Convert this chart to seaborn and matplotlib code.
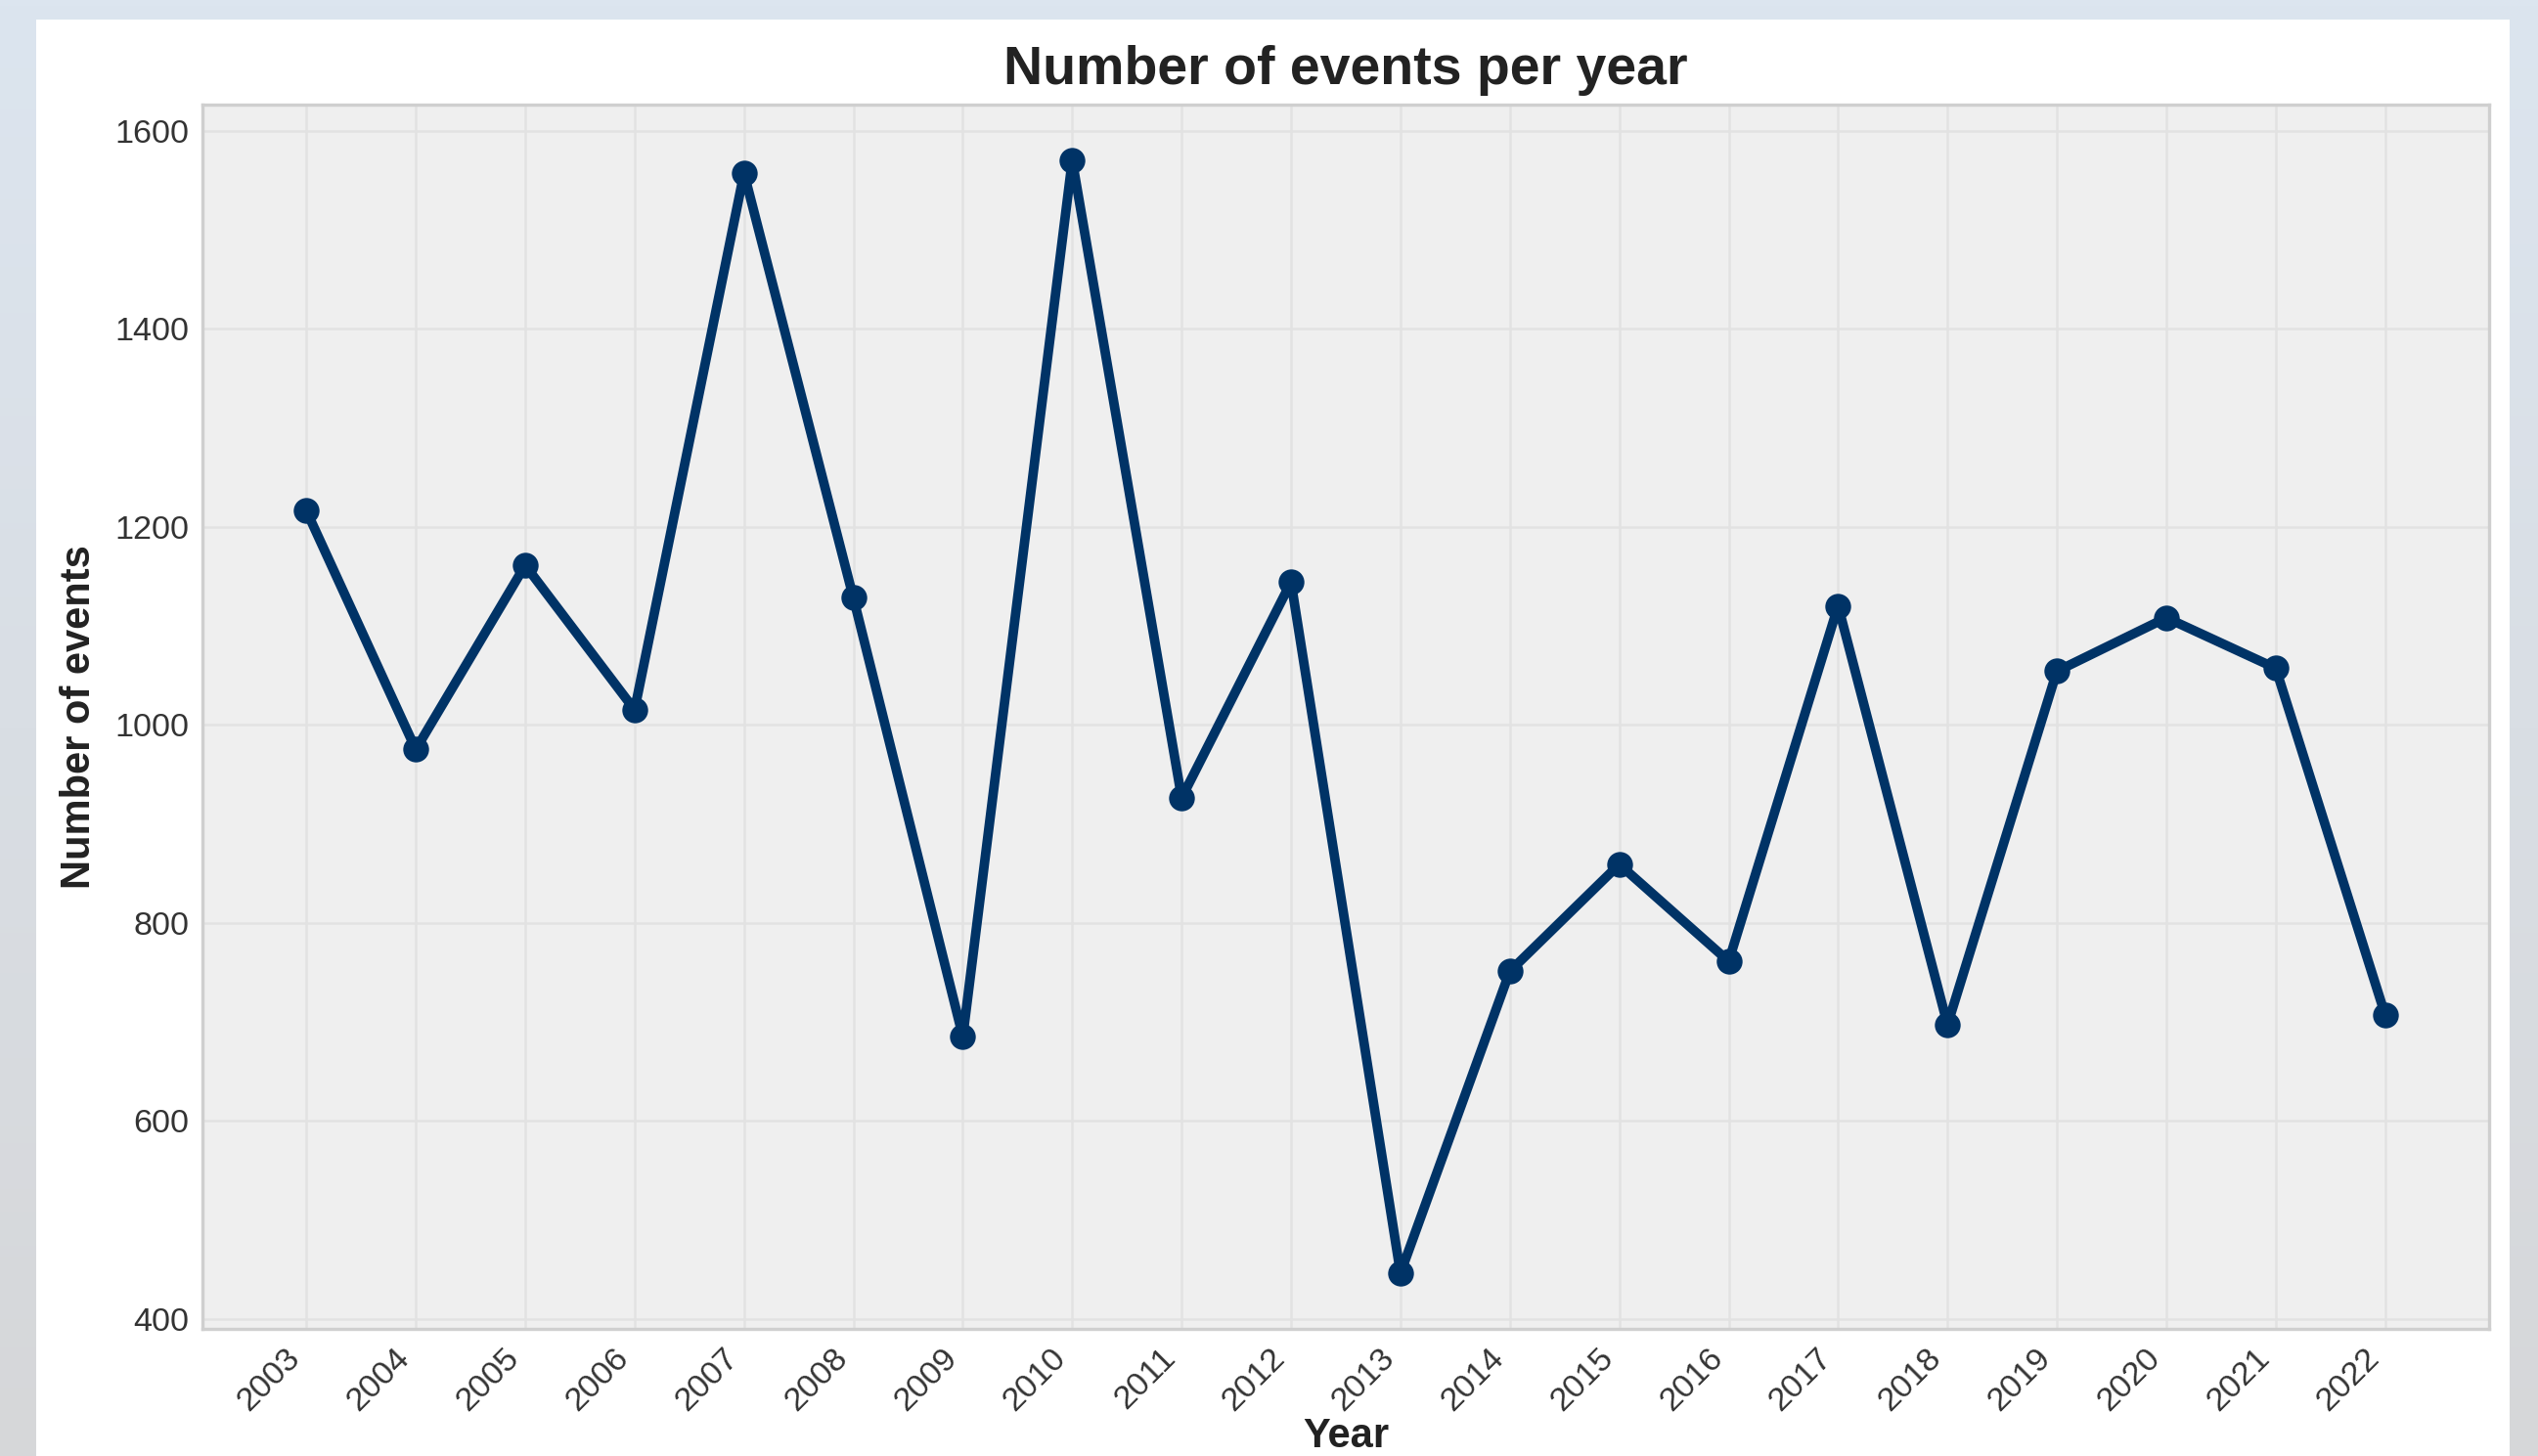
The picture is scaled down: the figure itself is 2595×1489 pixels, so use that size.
import numpy as np
import pandas as pd
import matplotlib
matplotlib.use("Agg")
import matplotlib.pyplot as plt
from matplotlib.patches import Rectangle
import seaborn as sns

# ---- data ----
years = [2003, 2004, 2005, 2006, 2007, 2008, 2009, 2010, 2011, 2012,
         2013, 2014, 2015, 2016, 2017, 2018, 2019, 2020, 2021, 2022]
events = [1216, 975, 1161, 1015, 1557, 1128, 685, 1570, 926, 1144,
          446, 751, 859, 761, 1120, 697, 1054, 1108, 1057, 707]
year_labels = [str(y) for y in years]
y_ticks = [400, 600, 800, 1000, 1200, 1400, 1600]

title = "Number of events per year"
x_label = "Year"
y_label = "Number of events"

sns.set_theme(style="whitegrid")
plt.rcParams["font.family"] = ["Liberation Sans", "DejaVu Sans"]

W, H = 2595, 1489
fig = plt.figure(figsize=(W / 200, H / 200), dpi=200)

# background gradient
bg = fig.add_axes([0, 0, 1, 1], zorder=-10)
top = np.array([220, 229, 239]) / 255.0
bot = np.array([214, 215, 217]) / 255.0
t = np.linspace(0, 1, 256)[:, None]
grad = (top[None, :] * (1 - t) + bot[None, :] * t)[:, None, :]
grad = np.repeat(grad, 4, axis=1)
bg.imshow(grad, aspect="auto", extent=[0, 1, 0, 1], origin="upper")
bg.set_axis_off()

# white card
card = Rectangle((37 / W, 0), (2566 - 37) / W, (H - 20) / H,
                 transform=fig.transFigure, facecolor="white",
                 edgecolor="none", zorder=-5)
fig.patches.append(card)

ax = fig.add_axes([207 / W, (H - 1359) / H, (2545 - 207) / W, (1359 - 107) / H], zorder=1)
ax.set_facecolor("#efefef")

df = pd.DataFrame({"Year": years, "Events": events})
sns.lineplot(data=df, x="Year", y="Events", ax=ax, color="#003366",
             linewidth=3.5, marker="o", markersize=9.5, markeredgewidth=0)

ax.set_xticks(years)
ax.set_xticklabels(year_labels, rotation=45, ha="right")
ax.set_yticks(y_ticks)
ax.tick_params(axis="both", labelsize=12.3, colors="#333333", length=0, pad=5)

ax.grid(True, color="#e2e2e2", linewidth=0.9)
for s in ax.spines.values():
    s.set_color("#cfcfcf")
    s.set_linewidth(1.2)

ax.set_title(title, fontsize=20, fontweight="bold", color="#222222", pad=7.5)
ax.set_xlabel(x_label, fontsize=15, fontweight="bold", color="#222222")
ax.set_ylabel(y_label, fontsize=15, fontweight="bold", color="#222222")
ax.xaxis.set_label_coords(0.5, (1359 - 1449) / (1359 - 107))
ax.yaxis.set_label_coords((101 - 207) / (2545 - 207), 0.5)

fig.savefig("out.png", dpi=200)
